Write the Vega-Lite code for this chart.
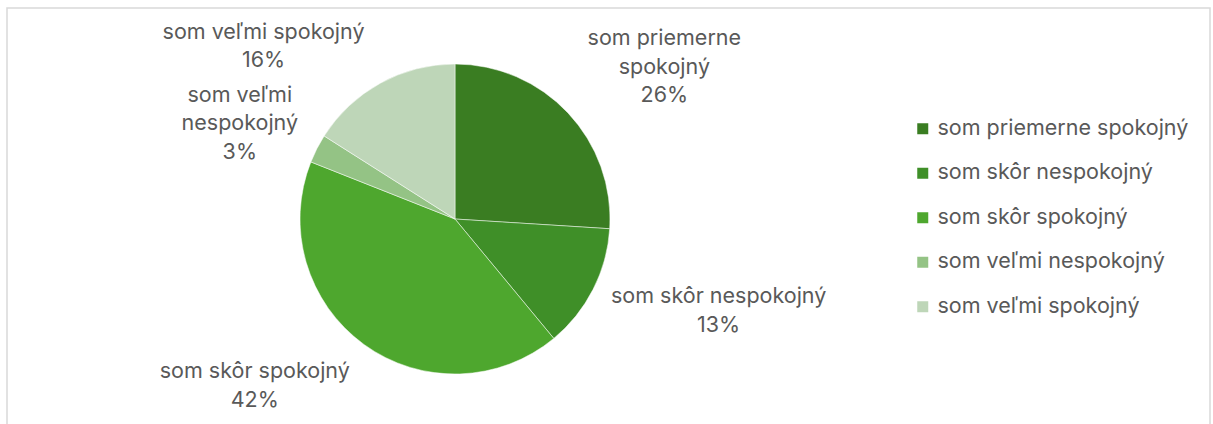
{
  "$schema": "https://vega.github.io/schema/vega-lite/v6.json",
  "width": 1203,
  "height": 430,
  "autosize": {"type": "none"},
  "padding": {"left": 7, "top": 8, "right": 3, "bottom": 0},
  "background": "white",
  "view": {"stroke": "#d9d9d9", "strokeWidth": 1.5, "fill": "white"},
  "config": {
    "font": "Inter",
    "text": {"font": "Inter", "fontSize": 21.5, "fill": "#595959", "lineBreak": "\n", "lineHeight": 28.5, "align": "center", "baseline": "middle"}
  },
  "data": {
    "values": [
      {"category": "som priemerne spokojný", "value": 26, "order": 1, "label": "som priemerne\nspokojný\n26%"},
      {"category": "som skôr nespokojný", "value": 13, "order": 2, "label": "som skôr nespokojný\n13%"},
      {"category": "som skôr spokojný", "value": 42, "order": 3, "label": "som skôr spokojný\n42%"},
      {"category": "som veľmi nespokojný", "value": 3, "order": 4, "label": "som veľmi\nnespokojný\n3%"},
      {"category": "som veľmi spokojný", "value": 16, "order": 5, "label": "som veľmi spokojný\n16%"}
    ]
  },
  "encoding": {
    "theta": {"field": "value", "type": "quantitative", "stack": true},
    "order": {"field": "order", "type": "quantitative"}
  },
  "layer": [
    {
      "mark": {"type": "arc", "outerRadius": 155, "x": 448, "y": 211, "stroke": "white", "strokeWidth": 0.5},
      "encoding": {
        "color": {
          "field": "category",
          "type": "nominal",
          "scale": {
            "domain": ["som priemerne spokojný", "som skôr nespokojný", "som skôr spokojný", "som veľmi nespokojný", "som veľmi spokojný"],
            "range": ["#3a7d22", "#3f8f28", "#4ea72e", "#94c385", "#bed6b8"]
          },
          "legend": {
            "title": null,
            "orient": "none",
            "legendX": 905,
            "legendY": 110,
            "symbolType": "square",
            "symbolSize": 121,
            "symbolStrokeWidth": 0,
            "symbolOpacity": 1,
            "labelFont": "Inter",
            "labelFontSize": 21.5,
            "labelColor": "#595959",
            "labelOffset": 4,
            "rowPadding": 21.5,
            "padding": 0,
            "labelLimit": 400
          }
        }
      }
    },
    {
      "mark": {"type": "text", "radius": 276, "thetaOffset": 0.044, "x": 448, "y": 211},
      "encoding": {"text": {"condition": {"test": "datum.category == 'som priemerne spokojný'", "field": "label"}, "value": ""}}
    },
    {
      "mark": {"type": "text", "radius": 275, "thetaOffset": -0.183, "x": 448, "y": 211},
      "encoding": {"text": {"condition": {"test": "datum.category == 'som skôr nespokojný'", "field": "label"}, "value": ""}}
    },
    {
      "mark": {"type": "text", "radius": 252, "thetaOffset": 0.29, "x": 448, "y": 211},
      "encoding": {"text": {"condition": {"test": "datum.category == 'som skôr spokojný'", "field": "label"}, "value": ""}}
    },
    {
      "mark": {"type": "text", "radius": 248, "thetaOffset": 0.049, "x": 448, "y": 211},
      "encoding": {"text": {"condition": {"test": "datum.category == 'som veľmi nespokojný'", "field": "label"}, "value": ""}}
    },
    {
      "mark": {"type": "text", "radius": 267, "thetaOffset": -0.297, "x": 448, "y": 211},
      "encoding": {"text": {"condition": {"test": "datum.category == 'som veľmi spokojný'", "field": "label"}, "value": ""}}
    }
  ]
}
